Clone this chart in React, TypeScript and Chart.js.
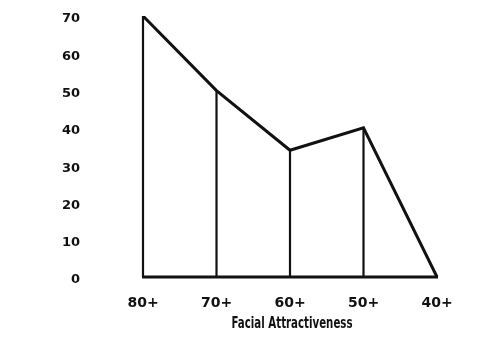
import React, { useEffect, useRef } from "react";
import { Chart, registerables } from "chart.js";

Chart.register(...registerables);

const categories = ["80+", "70+", "60+", "50+", "40+"];
const values = [70, 50, 34, 40, 0];
const yTicks = [0, 10, 20, 30, 40, 50, 60, 70];
const axisTitle = "Facial Attractiveness";

const dropLines = {
  id: "dropLines",
  afterDatasetsDraw(chart: any) {
    const meta = chart.getDatasetMeta(0);
    const y = chart.scales.y;
    const base = y.getPixelForValue(0);
    const ctx = chart.ctx;
    ctx.save();
    ctx.strokeStyle = "#111";
    ctx.lineCap = "butt";
    ctx.lineWidth = 2.2;
    meta.data.forEach((p: any) => {
      ctx.beginPath();
      ctx.moveTo(p.x, p.y);
      ctx.lineTo(p.x, base);
      ctx.stroke();
    });
    ctx.lineWidth = 3.2;
    ctx.beginPath();
    ctx.moveTo(meta.data[0].x - 1, base);
    ctx.lineTo(meta.data[meta.data.length - 1].x + 1, base);
    ctx.stroke();
    ctx.restore();
  },
};

const condensedTitle = {
  id: "condensedTitle",
  afterDraw(chart: any) {
    const x = chart.scales.x;
    const ctx = chart.ctx;
    const cx = (x.left + x.right) / 2 + 2;
    ctx.save();
    ctx.translate(cx, 324);
    ctx.scale(0.64, 1);
    ctx.font = "bold 16px 'DejaVu Sans', sans-serif";
    ctx.fillStyle = "#111";
    ctx.textAlign = "center";
    ctx.textBaseline = "middle";
    ctx.fillText(axisTitle, 0, 0);
    ctx.restore();
  },
};

export default function App() {
  const ref = useRef<HTMLCanvasElement>(null);
  useEffect(() => {
    if (!ref.current) return;
    const chart = new Chart(ref.current, {
      type: "line",
      data: {
        labels: categories,
        datasets: [
          {
            data: values,
            borderColor: "#111",
            borderWidth: 3,
            pointRadius: 0,
            tension: 0,
            fill: false,
          },
        ],
      },
      options: {
        animation: false,
        responsive: false,
        maintainAspectRatio: false,
        layout: { padding: { top: 16, right: 63, left: 0, bottom: 0 } },
        plugins: { legend: { display: false }, tooltip: { enabled: false } },
        scales: {
          x: {
            type: "category",
            offset: false,
            grid: { display: false, drawTicks: false },
            border: { display: false },
            ticks: {
              color: "#111",
              padding: 18,
              maxRotation: 0,
              font: { family: "'DejaVu Sans', sans-serif", size: 14, weight: "bold" },
            },
            afterFit(scale: any) {
              scale.height = 79;
            },
          },
          y: {
            min: 0,
            max: 70,
            grid: { display: false, drawTicks: false },
            border: { display: false },
            afterBuildTicks(scale: any) {
              scale.ticks = yTicks.map((v) => ({ value: v }));
            },
            ticks: {
              color: "#111",
              padding: 63,
              labelOffset: 3,
              font: { family: "'DejaVu Sans', sans-serif", size: 13, weight: "bold" },
            },
            afterFit(scale: any) {
              scale.width = 143;
              scale.paddingTop = 0;
              scale.paddingBottom = 0;
            },
          },
        },
      },
      plugins: [dropLines, condensedTitle],
    });
    return () => chart.destroy();
  }, []);
  return (
    <div style={{ position: "absolute", left: 0, top: 0, width: 500, height: 356, background: "#fff" }}>
      <canvas ref={ref} width={500} height={356} style={{ display: "block", width: 500, height: 356 }} />
    </div>
  );
}
